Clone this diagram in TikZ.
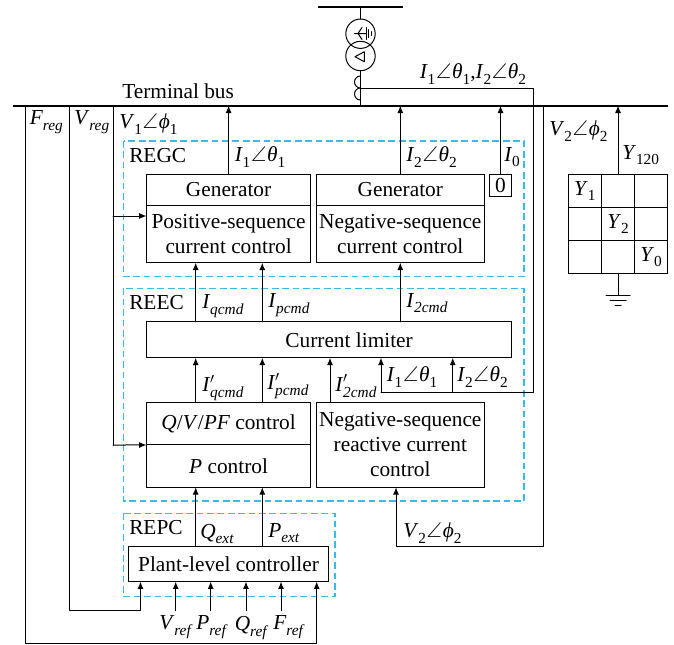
\documentclass[tikz,border=0pt]{standalone}
\usepackage{amsmath,amssymb}
\usepackage{fontspec}
\setmainfont{Liberation Serif}
\usepackage{tikz}
\usetikzlibrary{arrows.meta,calc,positioning}
\definecolor{dashblue}{HTML}{35BBEE}
\newcommand{\sub}[1]{\raisebox{-0.27em}{\fontsize{11.5}{11.5}\selectfont #1}}
\newcommand{\subit}[1]{\sub{\textit{#1}}}
\newcommand{\vang}[3]{\textit{#1}\sub{#2}\kern0.5pt$\angle$\kern0.5pt\textit{#3}\sub{#2}}
\newcommand{\prm}{\rlap{\raisebox{0.02em}{$^{\prime}$}}}
\tikzset{
  every node/.style={font=\fontsize{16}{18.75}\selectfont,inner sep=0pt},
  wire/.style={line width=0.75pt,line cap=round,line join=round},
  sig/.style={wire,-{Latex[length=5.5pt,width=4.5pt]}},
  bus/.style={line width=1.7pt},
  dashbox/.style={draw=dashblue,line width=0.8pt,dash pattern=on 5pt off 2.8pt},
  blockbox/.style={draw,line width=0.75pt,align=center,outer sep=0pt},
  lab/.style={anchor=west}
}
\begin{document}
\begin{tikzpicture}[x=0.75pt,y=-0.75pt]
  \useasboundingbox (0,0) rectangle (674,644);
  % dashed regions
  \draw[dashbox] (123.5,141) rectangle (524,276.7);
  \draw[dashbox] (123.5,288.4) rectangle (524,501);
  \draw[dashbox] (123.5,513.3) rectangle (335,596.5);
  % buses
  \coordinate (topl) at (318,7.3);
  \coordinate (topr) at (403,7.3);
  \coordinate (busl) at (13,105.7);
  \coordinate (busr) at (668,105.7);
  \draw[bus] (topl) -- (topr);
  \draw[bus] (busl) -- (busr);
  % transformer
  \coordinate (stem) at (360.5,7.3);
  \coordinate (wyetop) at (360.5,19);
  \coordinate (deltabot) at (360.5,70.7);
  \draw[wire] (360.5,33.7) circle[radius=14.7];
  \draw[wire] (360.5,56) circle[radius=14.7];
  \draw[wire] (stem) -- (wyetop);
  \draw[wire] (deltabot) -- (deltabot |- busl);
  \draw[wire] (354.5,33.5) -- (366,33.5) (362,27.5) -- (358,33.5) -- (362,39.5);
  \draw[wire] (366,27.5) -- (366,39.5) (368.5,29.5) -- (368.5,37.5) (371,31.5) -- (371,35.5);
  \draw[wire] (355,56.7) -- (364.3,51.7) -- (364.3,61.7) -- cycle;
  % current measurement
  \coordinate (ctm) at (360.5,88);
  \draw[wire] (360.5,76) arc[start angle=270,end angle=90,radius=6] arc[start angle=270,end angle=90,radius=6];
  % blocks
  \node[blockbox,minimum width=123.2pt,minimum height=23pt] (genone) at (228.6,189.7) {Generator};
  \node[blockbox,minimum width=123.2pt,minimum height=43.3pt] (posctl) at (228.6,233.9) {Positive-sequence\\current control};
  \node[blockbox,minimum width=125.6pt,minimum height=23pt] (gentwo) at (400.3,189.7) {Generator};
  \node[blockbox,minimum width=125.6pt,minimum height=43.3pt] (negctl) at (400.3,233.9) {Negative-sequence\\current control};
  \node[blockbox,minimum width=16.5pt,minimum height=16.5pt] (zero) at (500.5,185.3) {0};
  \node[blockbox,minimum width=273.9pt,minimum height=27pt] (limiter) at (329.1,339.8) {\hspace*{30pt}Current limiter};
  \node[blockbox,minimum width=123.2pt,minimum height=32pt] (qvctl) at (228.6,423.6) {\textit{Q}/\textit{V}/\textit{PF} control};
  \node[blockbox,minimum width=123.2pt,minimum height=31.7pt] (pctl) at (228.6,466.1) {\textit{P} control};
  \node[blockbox,minimum width=125.6pt,minimum height=63.75pt] (negreac) at (400.3,444.8) {Negative-sequence\\reactive current\\control};
  \node[blockbox,minimum width=149.3pt,minimum height=26.7pt] (plant) at (228.5,563.8) {Plant-level controller};
  % admittance grid
  \node[blockbox,minimum size=74.5pt] (yblock) at (618,224) {};
  \draw[wire] (601.3,174.3) -- (601.3,273.7) (634.5,174.3) -- (634.5,273.7);
  \draw[wire] (568.3,207.3) -- (667.7,207.3) (568.3,240.7) -- (667.7,240.7);
  \node (yone) at (584.8,191) {\textit{Y}\sub{1}};
  \node (ytwo) at (618,224) {\textit{Y}\sub{2}};
  \node (yzero) at (651,257) {\textit{Y}\sub{0}};
  \coordinate (gnd) at (618,295.7);
  \draw[wire] (yblock.south) -- (gnd);
  \draw[wire] (606,295.7) -- (630,295.7) (610,300.7) -- (626,300.7) (615,305) -- (621,305);
  % connector columns
  \coordinate (xq) at (195.7,0);
  \coordinate (xp) at (262.3,0);
  \coordinate (xn) at (330,0);
  \coordinate (xa) at (381,0);
  \coordinate (xb) at (452.7,0);
  \coordinate (xv) at (396,0);
  % upward signals
  \draw[sig] (genone.north) -- (genone.north |- busl);
  \draw[sig] (gentwo.north) -- (gentwo.north |- busl);
  \draw[sig] (zero.north) -- (zero.north |- busl);
  \draw[sig] (yblock.north) -- (yblock.north |- busl);
  \draw[sig] (limiter.north -| xq) -- (posctl.south -| xq);
  \draw[sig] (limiter.north -| xp) -- (posctl.south -| xp);
  \draw[sig] (limiter.north -| negctl.south) -- (negctl.south);
  \draw[sig] (qvctl.north -| xq) -- (limiter.south -| xq);
  \draw[sig] (qvctl.north -| xp) -- (limiter.south -| xp);
  \draw[sig] (negreac.north -| xn) -- (limiter.south -| xn);
  \draw[sig] (plant.north -| xq) -- (pctl.south -| xq);
  \draw[sig] (plant.north -| xp) -- (pctl.south -| xp);
  % current feedback
  \coordinate (fbtop) at (533.7,88);
  \coordinate (fbbot) at (533.7,392);
  \coordinate (fbleft) at (381,392);
  \coordinate (fbmid) at (452.7,392);
  \draw[wire] (ctm) -- (fbtop) -- (fbbot) -- (fbleft);
  \draw[sig] (fbleft) -- (limiter.south -| xa);
  \draw[sig] (fbmid) -- (limiter.south -| xb);
  % voltage feedback
  \coordinate (vone) at (113,105.7);
  \coordinate (vonebot) at (113,445);
  \draw[wire] (vone) -- (vonebot);
  \draw[sig] (vonebot) -- (pctl.north west);
  \draw[sig] (113,216) -- (posctl.west |- 113,216);
  \coordinate (vtwo) at (543,105.7);
  \coordinate (vtwobot) at (543,546.7);
  \draw[sig] (vtwo) -- (vtwobot) -- (396,546.7) -- (negreac.south -| xv);
  \coordinate (vreg) at (69,105.7);
  \coordinate (vregbot) at (69,610.7);
  \draw[sig] (vreg) -- (vregbot) -- (140.5,610.7) -- (plant.south -| 140.5,0);
  \coordinate (freg) at (25,105.7);
  \coordinate (fregbot) at (25,643);
  \draw[sig] (freg) -- (fregbot) -- (316.7,643) -- (plant.south -| 316.7,0);
  % reference inputs
  \foreach \xr/\nm in {175.7/vr,210.7/pr,246/qr,281/fr} {
    \coordinate (\nm) at (\xr,610.7);
    \draw[sig] (\nm) -- (plant.south -| \nm);
  }
  % labels
  \node[lab] (lblbus) at (122,91) {Terminal bus};
  \node[lab] (lblfb) at (419.5,74) {\vang{I}{1}{θ},\vang{I}{2}{θ}};
  \node[lab] (lblfreg) at (29.5,122) {\textit{F}\subit{reg}};
  \node[lab] (lblvreg) at (74,122) {\textit{V}\subit{reg}};
  \node[lab] (lblvone) at (119,124) {\vang{V}{1}{ϕ}};
  \node[lab] (lblvtwo) at (549,131) {\vang{V}{2}{ϕ}};
  \node[lab] (lblytot) at (622,155) {\textit{Y}\sub{120}};
  \node[lab] (lblregc) at (129,156) {REGC};
  \node[lab] (lblione) at (234.5,157) {\vang{I}{1}{θ}};
  \node[lab] (lblitwo) at (406,157) {\vang{I}{2}{θ}};
  \node[lab] (lblizero) at (504,157) {\textit{I}\sub{0}};
  \node[lab] (lblreec) at (129,303) {REEC};
  \node[lab] (lbliq) at (202,306) {\textit{I}\subit{qcmd}};
  \node[lab] (lblip) at (268,305) {\textit{I}\subit{pcmd}};
  \node[lab] (lblin) at (406,303) {\textit{I}\subit{2cmd}};
  \node[lab] (lbliqp) at (202,388) {\textit{I}\prm\subit{qcmd}};
  \node[lab] (lblipp) at (267,386) {\textit{I}\prm\subit{pcmd}};
  \node[lab] (lblinp) at (335,386) {\textit{I}\prm\subit{2cmd}};
  \node[lab] (lblfa) at (386.5,377) {\vang{I}{1}{θ}};
  \node[lab] (lblfb2) at (457,377) {\vang{I}{2}{θ}};
  \node[lab] (lblvneg) at (403,533) {\vang{V}{2}{ϕ}};
  \node[lab] (lblrepc) at (129,528) {REPC};
  \node[lab] (lblqext) at (200,534) {\textit{Q}\subit{ext}};
  \node[lab] (lblpext) at (268,533) {\textit{P}\subit{ext}};
  \node[lab] (lblvref) at (159,627) {\textit{V}\subit{ref}};
  \node[lab] (lblpref) at (196,627) {\textit{P}\subit{ref}};
  \node[lab] (lblqref) at (234.5,628) {\textit{Q}\subit{ref}};
  \node[lab] (lblfref) at (273,627) {\textit{F}\subit{ref}};
\end{tikzpicture}
\end{document}
